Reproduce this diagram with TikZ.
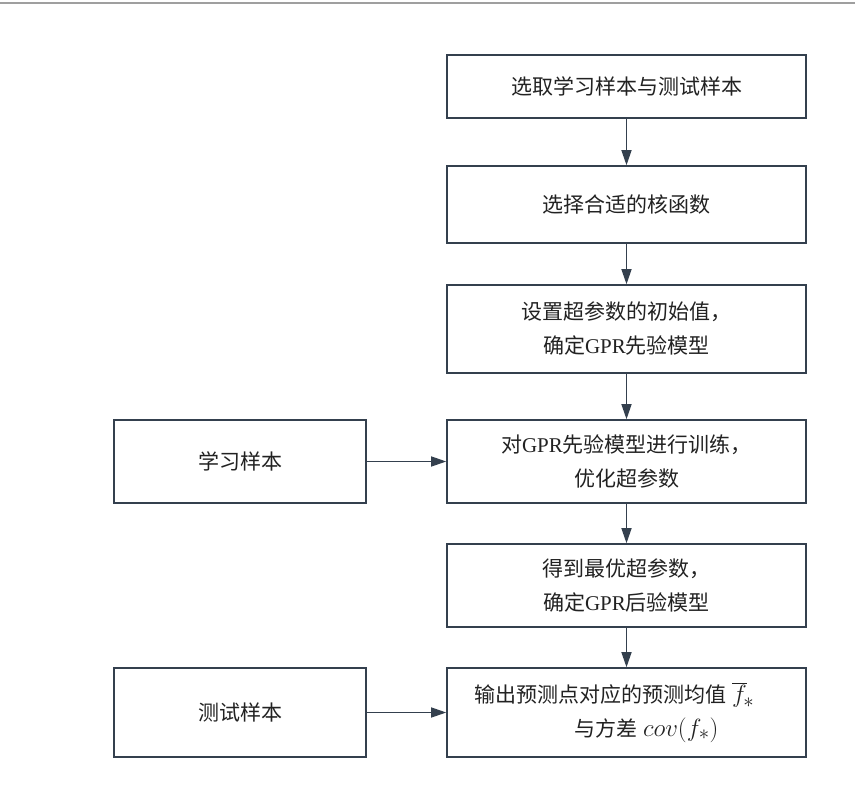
\documentclass[tikz,border=0pt]{standalone}
\usepackage{fontspec}
\setmainfont{Liberation Serif}
\newfontfamily\cjk{Noto Sans CJK SC}
\usetikzlibrary{arrows.meta}
\definecolor{ln}{HTML}{34404E}
\definecolor{tx}{HTML}{222222}
\newcommand{\bigmath}[1]{{\fontsize{24.88pt}{30pt}\selectfont$#1$}}
\begin{document}
\begin{tikzpicture}[x=1pt,y=-1pt,
  box/.style={draw=ln,line width=1.6pt,minimum width=359pt,text=tx,align=center,inner sep=0pt,font=\fontsize{21pt}{34pt}\selectfont},
  lbox/.style={box,minimum width=252pt},
  arr/.style={draw=ln,line width=1.4pt,-{Triangle[length=15pt,width=10pt]}}]
\fill[white] (0,0) rectangle (855,789);
\useasboundingbox (0,0) rectangle (855,789);
\draw[gray!75,line width=2pt] (0,3) -- (855,3);
\node[box,minimum height=63pt] (b1) at (626.5,86.5) {\cjk 选取学习样本与测试样本};
\node[box,minimum height=77pt] (b2) at (626.5,204.5) {\cjk 选择合适的核函数};
\node[box,minimum height=88pt] (b3) at (626.5,329) {{\cjk 设置超参数的初始值，}\\{\cjk 确定}GPR{\cjk 先验模型}};
\node[box,minimum height=83pt] (b4) at (626.5,461.5) {{\cjk 对}GPR{\cjk 先验模型进行训练，}\\{\cjk 优化超参数}};
\node[box,minimum height=83pt] (b5) at (626.5,585.5) {{\cjk 得到最优超参数，}\\{\cjk 确定}GPR{\cjk 后验模型}};
\node[box,minimum height=89pt,align=left] (b6) at (626.5,712.5) {{\cjk 输出预测点对应的预测均值} \bigmath{\overline{f}_{\!*}}\hspace*{24pt}\\[0pt]\hspace*{100pt}{\cjk 与方差} \bigmath{cov(f_{*})}};
\node[lbox,minimum height=83pt] (l1) at (240,461.5) {\cjk 学习样本};
\node[lbox,minimum height=89pt] (l2) at (240,712.5) {\cjk 测试样本};
\draw[arr] (b1) -- (b2);
\draw[arr] (b2) -- (b3);
\draw[arr] (b3) -- (b4);
\draw[arr] (b4) -- (b5);
\draw[arr] (b5) -- (b6);
\draw[arr] (l1) -- (b4);
\draw[arr] (l2) -- (b6);
\end{tikzpicture}
\end{document}
